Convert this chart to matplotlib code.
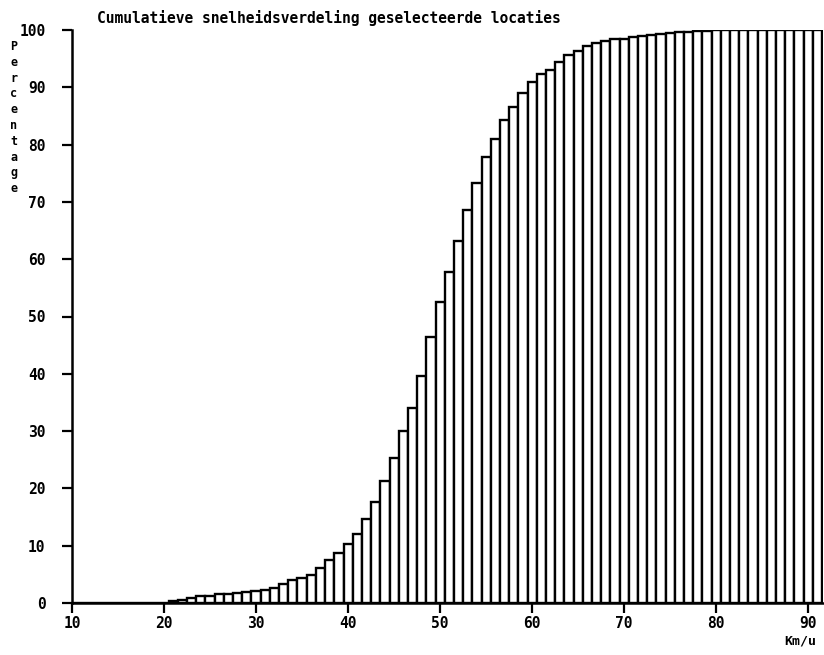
import matplotlib
matplotlib.use("Agg")
import matplotlib.pyplot as plt

speeds = list(range(10, 92))
percent = [0, 0, 0, 0, 0, 0, 0, 0, 0, 0, 0,
           0.3, 0.45, 0.8, 1.2, 1.2, 1.5, 1.6, 1.7, 2.0,
           2.1, 2.3, 2.6, 3.3, 4.1, 4.4, 4.8, 6.1, 7.5, 8.7,
           10.3, 12.1, 14.6, 17.6, 21.3, 25.3, 30.1, 34.0, 39.6, 46.4,
           52.5, 57.8, 63.2, 68.6, 73.3, 77.9, 81.0, 84.3, 86.5, 89.0,
           90.9, 92.3, 93.1, 94.5, 95.6, 96.4, 97.2, 97.8, 98.1, 98.4,
           98.5, 98.8, 99.0, 99.2, 99.3, 99.5, 99.6, 99.7, 99.8, 99.9,
           100, 100, 100, 100, 100, 100, 100, 100, 100, 100,
           100, 100]
xticks = [10, 20, 30, 40, 50, 60, 70, 80, 90]
yticks = [0, 10, 20, 30, 40, 50, 60, 70, 80, 90, 100]
title = "Cumulatieve snelheidsverdeling geselecteerde locaties"
ylabel = "Percentage"
xlabel = "Km/u"

font = "DejaVu Sans Mono"
fig = plt.figure(figsize=(8.24, 6.55), dpi=100)
ax = fig.add_axes([72 / 824, 1 - 603 / 655, (823 - 72) / 824, (603 - 30) / 655])
ax.bar(speeds, percent, width=1.0, color="white", edgecolor="black", linewidth=1.7)
ax.set_xlim(10, 91.6)
ax.set_ylim(0, 100)
ax.set_xticks(xticks)
ax.set_yticks(yticks)
for s in ["top", "right"]:
    ax.spines[s].set_visible(False)
for s in ["left", "bottom"]:
    ax.spines[s].set_linewidth(1.8)
ax.tick_params(axis="both", direction="out", length=7, width=1.6, labelsize=10.5)
ax.tick_params(axis="y", pad=12)
ax.tick_params(axis="x", pad=2)
for lab in ax.get_xticklabels() + ax.get_yticklabels():
    lab.set_fontfamily(font)
    lab.set_fontweight("bold")

fig.text(97 / 824, 1 - 18 / 655, title, fontfamily=font, fontweight="bold",
         fontsize=10.5, ha="left", va="center")
fig.text(14 / 824, 1 - 40 / 655, "\n".join(ylabel), fontfamily=font, fontweight="bold",
         fontsize=8.5, ha="center", va="top", linespacing=1.28)
fig.text(800 / 824, 1 - 641 / 655, xlabel, fontfamily=font, fontweight="bold",
         fontsize=9.5, ha="center", va="center")

fig.savefig("out.png", dpi=100)
